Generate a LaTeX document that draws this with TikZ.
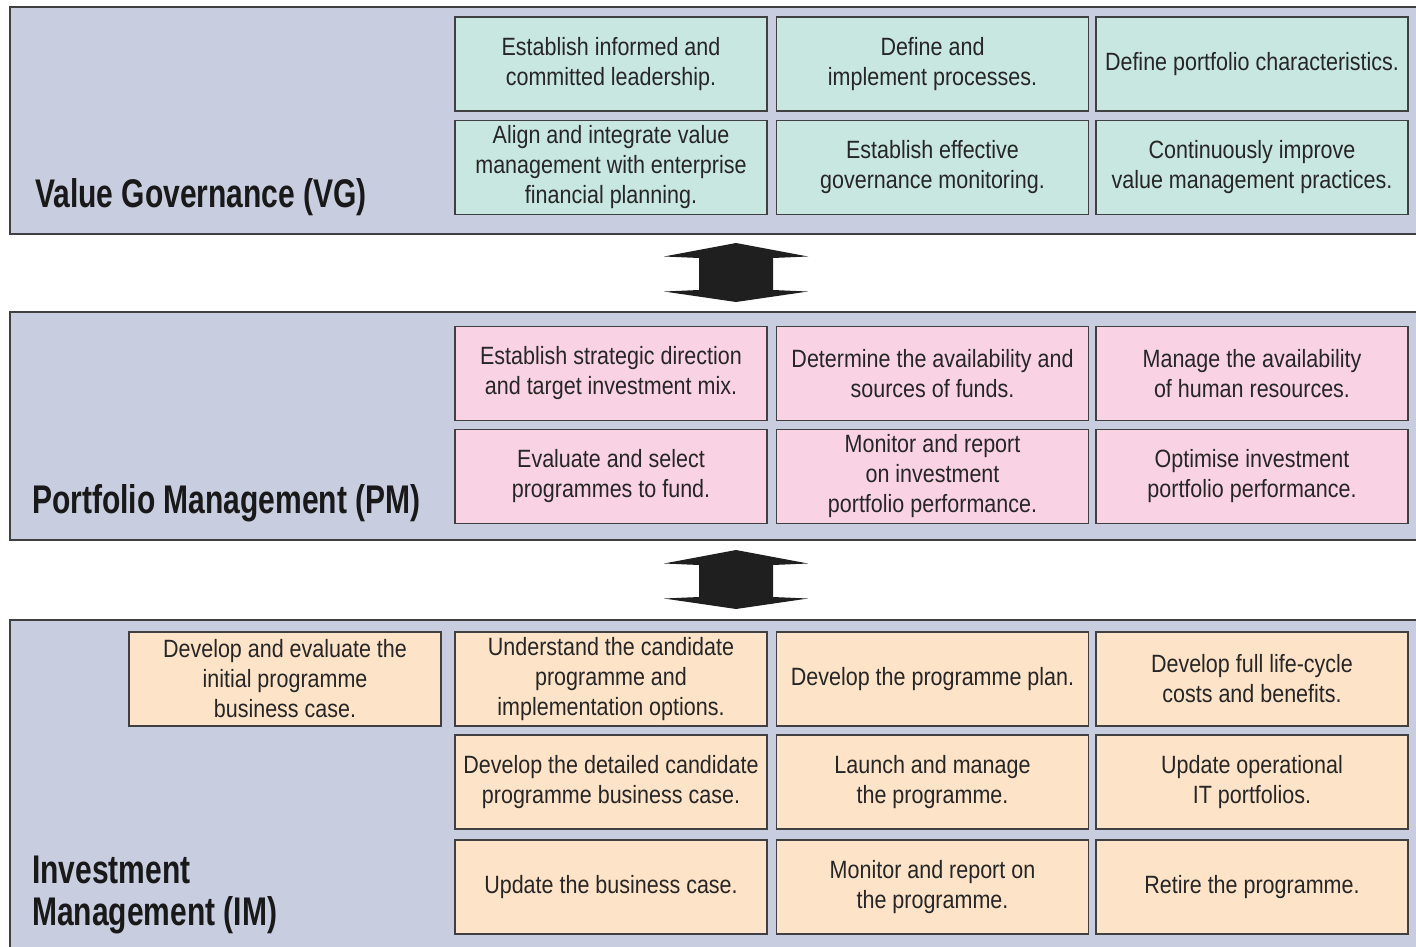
\documentclass[tikz,border=0pt]{standalone}
\usepackage{fontspec}
\setmainfont{Liberation Sans}[FakeStretch=0.86]
\newfontfamily\titlefont{Liberation Sans}[FakeStretch=0.75]
\begin{document}
\begin{tikzpicture}[x=1pt,y=-1pt,
  band/.style={draw=black!75,line width=1.4pt,fill=bandfill},
  cell/.style={draw=black!75,line width=1.6pt,minimum width=312pt,minimum height=94pt,
    inner sep=0pt,align=center,text=black!85,font=\fontsize{25}{30}\selectfont},
  vgcell/.style={cell,fill=vgfill},
  pmcell/.style={cell,fill=pmfill},
  imcell/.style={cell,fill=imfill},
  layertitle/.style={anchor=base west,inner sep=0pt,align=left,text=black!90,
    font=\titlefont\bfseries\fontsize{40}{42}\selectfont},
  linkarrow/.style={fill=black!88,draw=none}]
\definecolor{bandfill}{HTML}{C8CDE0}
\definecolor{vgfill}{HTML}{C8E7E0}
\definecolor{pmfill}{HTML}{F9D3E4}
\definecolor{imfill}{HTML}{FDE3C8}
\useasboundingbox (0,0) rectangle (1416,947);
\clip (0,0) rectangle (1416,947);

% layer bands
\draw[band] (10,7) rectangle (1430,234);
\draw[band] (10,312) rectangle (1430,540);
\draw[band] (10,620) rectangle (1430,960);

% Value Governance
\node[layertitle] (vgt) at (35,207) {Value Governance (VG)};
\node[vgcell] (vg11) at (611,64) {Establish informed and\\committed leadership.};
\node[vgcell] (vg12) at (932.5,64) {Define and\\implement processes.};
\node[vgcell] (vg13) at (1252,64) {Define portfolio characteristics.};
\node[vgcell] (vg21) at (611,167.5) {Align and integrate value\\management with enterprise\\financial planning.};
\node[vgcell] (vg22) at (932.5,167.5) {Establish effective\\governance monitoring.};
\node[vgcell] (vg23) at (1252,167.5) {Continuously improve\\value management practices.};

% Portfolio Management
\node[layertitle] (pmt) at (32,513) {Portfolio Management (PM)};
\node[pmcell] (pm11) at (611,373.5) {Establish strategic direction\\and target investment mix.};
\node[pmcell] (pm12) at (932.5,373.5) {Determine the availability and\\sources of funds.};
\node[pmcell] (pm13) at (1252,373.5) {Manage the availability\\of human resources.};
\node[pmcell] (pm21) at (611,476.5) {Evaluate and select\\programmes to fund.};
\node[pmcell] (pm22) at (932.5,476.5) {Monitor and report\\on investment\\portfolio performance.};
\node[pmcell] (pm23) at (1252,476.5) {Optimise investment\\portfolio performance.};

% Investment Management
\node[layertitle] (imt) at (32,925) {Investment\\Management (IM)};
\node[imcell] (im10) at (285,679) {Develop and evaluate the\\initial programme\\business case.};
\node[imcell] (im11) at (611,679) {Understand the candidate\\programme and\\implementation options.};
\node[imcell] (im12) at (932.5,679) {Develop the programme plan.};
\node[imcell] (im13) at (1252,679) {Develop full life-cycle\\costs and benefits.};
\node[imcell] (im21) at (611,782) {Develop the detailed candidate\\programme business case.};
\node[imcell] (im22) at (932.5,782) {Launch and manage\\the programme.};
\node[imcell] (im23) at (1252,782) {Update operational\\IT portfolios.};
\node[imcell] (im31) at (611,887) {Update the business case.};
\node[imcell] (im32) at (932.5,887) {Monitor and report on\\the programme.};
\node[imcell] (im33) at (1252,887) {Retire the programme.};

% two-way links between the layers
\foreach \dy in {0,307}{
  \fill[linkarrow] (736,243+\dy) -- (808,256.5+\dy) -- (773,258+\dy) -- (773,290+\dy)
    -- (808,291.5+\dy) -- (736,302+\dy) -- (664,291.5+\dy) -- (699,290+\dy)
    -- (699,258+\dy) -- (664,256.5+\dy) -- cycle;
}
\end{tikzpicture}
\end{document}
